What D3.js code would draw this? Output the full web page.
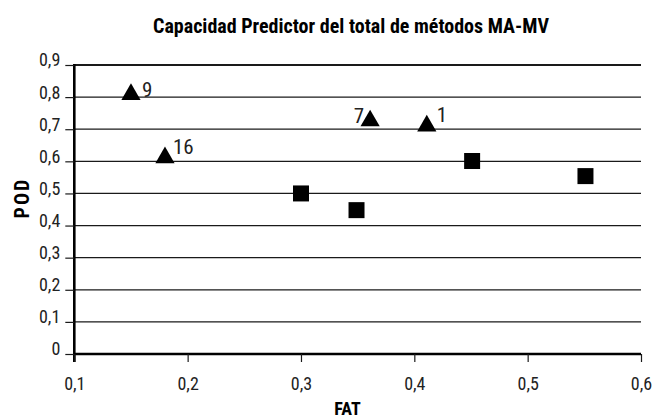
<!DOCTYPE html>
<html><head><meta charset="utf-8">
<script src="https://cdn.jsdelivr.net/npm/d3@7"></script>
<style>body{margin:0;background:#fff}svg{display:block}text{font-family:"Roboto Condensed","Liberation Sans Narrow","Arial Narrow",sans-serif}</style>
</head><body>
<script>
const title = "Capacidad Predictor del total de métodos MA-MV";
const xLabel = "FAT";
const yLabel = "POD";
const xTicks = [0.1, 0.2, 0.3, 0.4, 0.5, 0.6];
const yTicks = [0, 0.1, 0.2, 0.3, 0.4, 0.5, 0.6, 0.7, 0.8, 0.9];
const triFAT = [0.15, 0.18, 0.361, 0.411];
const triPOD = [0.817, 0.62, 0.735, 0.719];
const triLabels = ["9", "16", "7", "1"];
const sqFAT = [0.30, 0.349, 0.451, 0.551];
const sqPOD = [0.50, 0.448, 0.601, 0.554];

// label placement relative to marker centre (style only)
const labelStyle = {
  "9":  {dx: 11, dy: 5, anchor: "start"},
  "16": {dx: 8, dy: -1, anchor: "start"},
  "7":  {dx: -6, dy: 5, anchor: "end"},
  "1":  {dx: 10, dy: -1, anchor: "start"}
};

const W = 656, H = 419;
const m = {left: 74.3, right: 15, top: 65, bottom: 65};
const svg = d3.select("body").append("svg").attr("width", W).attr("height", H);
const x = d3.scaleLinear().domain([0.1, 0.6]).range([m.left, W - m.right]);
const y = d3.scaleLinear().domain([0, 0.9]).range([H - m.bottom, m.top]);
const fmt = d => d === 0 ? "0" : d3.format(".1f")(d).replace(".", ",");

// gridlines
svg.append("g").selectAll("line").data(yTicks.filter(d => d > 0)).join("line")
  .attr("x1", m.left).attr("x2", W - m.right)
  .attr("y1", d => y(d)).attr("y2", d => y(d))
  .attr("stroke", "#1a1a1a").attr("stroke-width", d => d === 0.9 ? 2.2 : 1.2);

// axes
const gy = svg.append("g").attr("transform", `translate(${m.left},0)`)
  .call(d3.axisLeft(y).tickValues(yTicks).tickSize(9).tickPadding(5).tickFormat(fmt));
const gx = svg.append("g").attr("transform", `translate(0,${y(0)})`)
  .call(d3.axisBottom(x).tickValues(xTicks).tickSize(8).tickFormat(fmt));
[gx, gy].forEach(g => {
  g.selectAll(".tick line").attr("stroke", "#1a1a1a").attr("stroke-width", 1.2);
  g.selectAll("text").attr("font-size", 18).attr("fill", "#222");
});
gy.selectAll("text").attr("dy", "0.05em");
gx.selectAll("text").attr("y", 36).attr("dy", 0);
gy.select(".domain").attr("stroke", "#000").attr("stroke-width", 2.6).attr("d", `M0,${y(0.9)-1}V${y(0)+8}`);
gx.select(".domain").attr("stroke", "#000").attr("stroke-width", 2.6).attr("d", `M${x(0.1)},0H${x(0.6)}`);

// squares
const sqData = sqFAT.map((f, i) => ({f, p: sqPOD[i]}));
svg.append("g").selectAll("path").data(sqData).join("path")
  .attr("d", d3.symbol().type(d3.symbolSquare).size(256))
  .attr("transform", d => `translate(${x(d.f)},${y(d.p)})`).attr("fill", "#000");

// triangles (shifted so their bounding box is centred on the point)
const triSize = 160;
const ty = Math.sqrt(triSize / (Math.sqrt(3) * 3));
const triData = triFAT.map((f, i) => ({f, p: triPOD[i], l: triLabels[i]}));
svg.append("g").selectAll("path").data(triData).join("path")
  .attr("d", d3.symbol().type(d3.symbolTriangle).size(triSize))
  .attr("transform", d => `translate(${x(d.f)},${y(d.p) + ty / 2})`).attr("fill", "#000");
svg.append("g").selectAll("text").data(triData).join("text")
  .attr("x", d => x(d.f) + labelStyle[d.l].dx)
  .attr("y", d => y(d.p) + labelStyle[d.l].dy)
  .attr("text-anchor", d => labelStyle[d.l].anchor)
  .attr("font-size", 21).attr("fill", "#222").text(d => d.l);

// title & axis titles
svg.append("text").attr("x", 351).attr("y", 33).attr("text-anchor", "middle")
  .attr("font-size", 20).attr("font-weight", "bold").attr("fill", "#000").text(title);
svg.append("text").attr("x", 347.5).attr("y", 415).attr("text-anchor", "middle")
  .attr("font-size", 18).attr("font-weight", "bold").attr("fill", "#000").text(xLabel);
svg.append("text").attr("transform", `translate(28.5,198) rotate(-90)`)
  .attr("text-anchor", "middle").attr("font-size", 20).attr("font-weight", "bold")
  .attr("fill", "#000").attr("letter-spacing", 2).text(yLabel);
</script>
</body></html>
